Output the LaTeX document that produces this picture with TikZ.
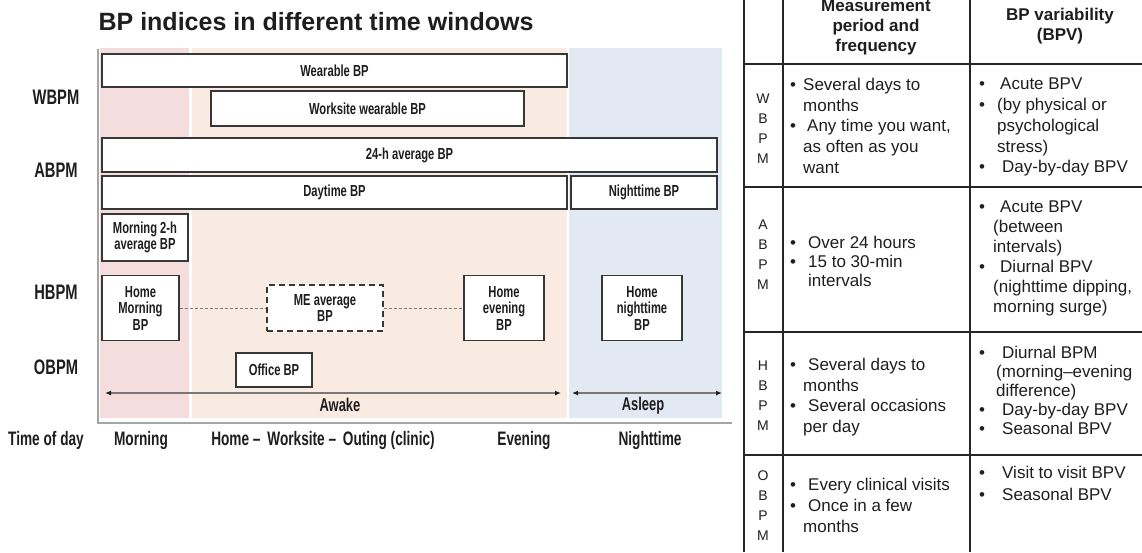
\documentclass[tikz,border=0pt]{standalone}
\usepackage{fontspec}
\setmainfont{Liberation Sans}
\newfontfamily\cnd[FakeStretch=0.7]{Liberation Sans}
\usetikzlibrary{arrows.meta}
\definecolor{pinkbg}{RGB}{246,221,221}
\definecolor{peachbg}{RGB}{249,235,225}
\definecolor{bluebg}{RGB}{227,233,243}
\definecolor{axisgray}{RGB}{165,165,165}
\definecolor{boxline}{RGB}{55,55,55}
\definecolor{ink}{RGB}{30,30,30}
\definecolor{arrgray}{RGB}{120,120,120}
\newcommand{\bl}[1]{\makebox[#1pt][l]{•}}
\newcommand{\ind}[1]{\hspace*{#1pt}}
\begin{document}
\begin{tikzpicture}[x=1pt,y=-1pt,
  bpbox/.style={draw=boxline,line width=1.1pt,fill=white,inner sep=1pt,align=center,text=ink,
    font=\cnd\bfseries\fontsize{16}{16.5}\selectfont},
  bx/.style 2 args={bpbox,minimum width=#1,minimum height=#2},
  rowlab/.style={text=ink,font=\cnd\bfseries\fontsize{21}{24}\selectfont},
  timelab/.style={text=ink,font=\cnd\bfseries\fontsize{19.5}{22}\selectfont},
  spanlab/.style={text=ink,font=\cnd\bfseries\fontsize{18.5}{20}\selectfont},
  dashlink/.style={draw=arrgray,line width=0.8pt,dash pattern=on 3pt off 2pt},
  spanarrow/.style={draw=arrgray,line width=1.2pt,
    {Latex[length=6pt,width=5pt,color=ink]}-{Latex[length=6pt,width=5pt,color=ink]}},
  tline/.style={draw=black!85,line width=1.2pt},
  thead/.style={align=center,text=ink,inner sep=0pt,font=\bfseries\fontsize{17}{20}\selectfont},
  tcell/.style={align=left,text=ink,inner sep=0pt,anchor=north west},
  tlet/.style={align=center,text=ink,inner sep=0pt,font=\fontsize{14}{20}\selectfont},
]
\useasboundingbox (0,0) rectangle (1142,552);
\fill[white] (0,0) rectangle (1142,552);

% title
\node[text=ink,font=\bfseries\fontsize{25}{30}\selectfont] (ttl) at (316,22) {BP indices in different time windows};

% background bands
\fill[pinkbg] (100,48) rectangle (189,418);
\fill[peachbg] (192,48) rectangle (567,418);
\fill[bluebg] (569,48) rectangle (722,418);
\draw[axisgray,line width=1.6pt] (98,49) -- (98,423) -- (732,423);

% boxes
\node[bx={465}{33}] (wear) at (334.5,70.5) {Wearable BP};
\node[bx={313}{35}] (work) at (367.5,108.5) {Worksite wearable BP};
\node[bx={615}{34}] (avg) at (409.5,155) {24-h average BP};
\node[bx={465}{33}] (day) at (334.5,192.5) {Daytime BP};
\node[bx={146}{33}] (night) at (644,192.5) {Nighttime BP};
\node[bx={86}{47}] (m2h) at (145,237.5) {Morning 2-h\\average BP};
\node[bx={77}{65}] (hm) at (140.5,308) {Home\\Morning\\BP};
\node[bx={116}{46},dash pattern=on 6pt off 4pt,line width=1.3pt] (me) at (325,308) {ME average\\BP};
\node[bx={80}{65}] (he) at (504,308) {Home\\evening\\BP};
\node[bx={80}{65}] (hn) at (642,308) {Home\\nighttime\\BP};
\node[bx={76}{34}] (ob) at (274,370) {Office BP};

\draw[dashlink] (hm.east) -- (me.west);
\draw[dashlink] (me.east) -- (he.west);

% awake / asleep spans
\coordinate (awL) at (105,393);
\coordinate (awR) at (561,393);
\coordinate (asL) at (572,393);
\coordinate (asR) at (722,393);
\draw[spanarrow] (awL) -- (awR);
\draw[spanarrow] (asL) -- (asR);
\node[spanlab] (awake) at (340,405) {Awake};
\node[spanlab] (asleep) at (643,406) {Asleep};

% row labels
\node[rowlab] (lw) at (56,97) {WBPM};
\node[rowlab] (la) at (56,170) {ABPM};
\node[rowlab] (lh) at (56,292) {HBPM};
\node[rowlab] (lo) at (56,367) {OBPM};

% time of day
\node[timelab] (tod) at (46,440) {Time of day};
\node[timelab] (tmorn) at (141,440) {Morning};
\node[timelab] (thome) at (323,440) {Home –\hspace{3pt} Worksite –\hspace{3pt} Outing (clinic)};
\node[timelab] (teve) at (524,440) {Evening};
\node[timelab] (tnight) at (650,440) {Nighttime};

% table lines
\draw[tline] (744,0) -- (744,552);
\draw[tline] (783,0) -- (783,552);
\draw[tline] (970,0) -- (970,552);
\draw[tline] (744,64) -- (1142,64);
\draw[tline] (744,187) -- (1142,187);
\draw[tline] (744,332) -- (1142,332);
\draw[tline] (744,455) -- (1142,455);

% table header
\node[thead] (hd2) at (876,27) {Measurement\\period and\\frequency};
\node[thead] (hd3) at (1060,26) {BP variability\\(BPV)};

% letters
\node[tlet] (rw) at (763,128.5) {W\\B\\P\\M};
\node[tlet] (ra) at (763,255) {A\\B\\P\\M};
\node[tlet] (rh) at (763,396) {H\\B\\P\\M};
\node[tlet] (ro) at (763,506) {O\\B\\P\\M};

% cells
\node[tcell,font=\fontsize{17}{20.7}\selectfont] (c12) at (790,78)
  {\bl{13}Several days to\\ \ind{13}months\\ \bl{17}Any time you want,\\ \ind{13}as often as you\\ \ind{13}want};
\node[tcell,font=\fontsize{17}{20.7}\selectfont] (c13) at (979,78)
  {\bl{21}Acute BPV\\ \bl{18}(by physical or\\ \ind{18}psychological\\ \ind{18}stress)\\ \bl{23}Day-by-day BPV};
\node[tcell,font=\fontsize{17}{19}\selectfont] (c22) at (790,236)
  {\bl{18}Over 24 hours\\ \bl{18}15 to 30-min\\ \ind{18}intervals};
\node[tcell,font=\fontsize{17}{20}\selectfont] (c23) at (979,201)
  {\bl{21}Acute BPV\\ \ind{14}(between\\ \ind{14}intervals)\\ \bl{21}Diurnal BPV\\ \ind{14}(nighttime dipping,\\ \ind{14}morning surge)};
\node[tcell,font=\fontsize{17}{20.7}\selectfont] (c32) at (790,358)
  {\bl{18}Several days to\\ \ind{13}months\\ \bl{18}Several occasions\\ \ind{13}per day};
\node[tcell,font=\fontsize{17}{19}\selectfont] (c33) at (979,346)
  {\bl{23}Diurnal BPM\\ \ind{17}(morning–evening\\ \ind{17}difference)\\ \bl{23}Day-by-day BPV\\ \bl{23}Seasonal BPV};
\node[tcell,font=\fontsize{17}{21}\selectfont] (c42) at (790,478)
  {\bl{18}Every clinical visits\\ \bl{18}Once in a few\\ \ind{13}months};
\node[tcell,font=\fontsize{17}{22}\selectfont] (c43) at (979,466)
  {\bl{23}Visit to visit BPV\\ \bl{23}Seasonal BPV};
\end{tikzpicture}
\end{document}
